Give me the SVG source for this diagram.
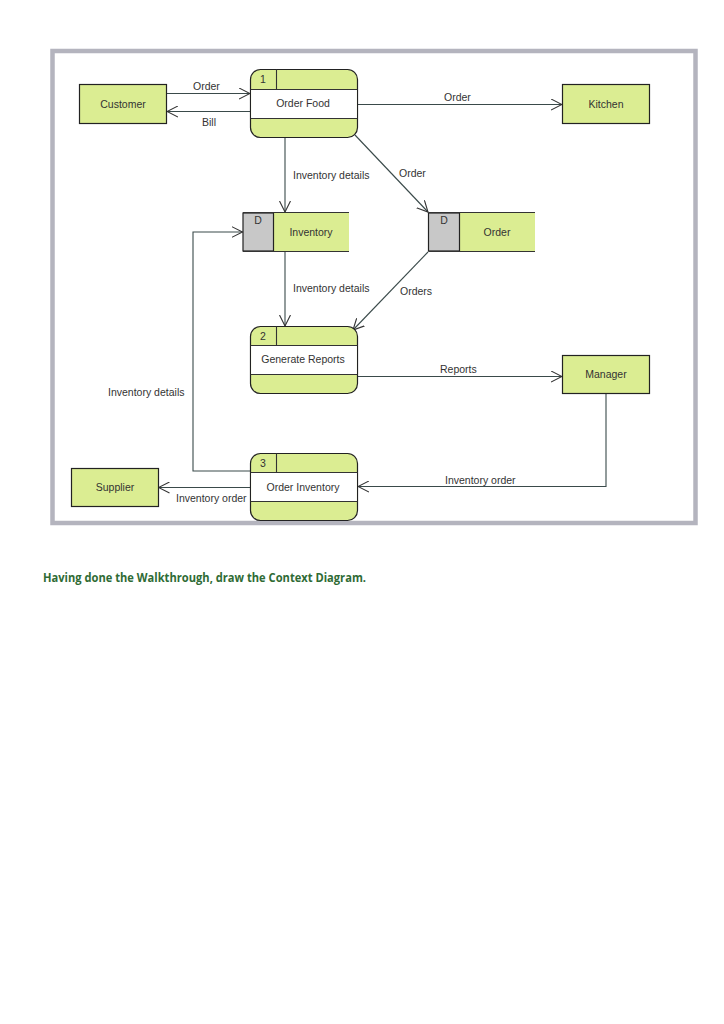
<svg xmlns="http://www.w3.org/2000/svg" width="724" height="1024" viewBox="0 0 724 1024">
<style>
.fill{fill:#dbed92;stroke:#222;stroke-width:1.2}
.grey{fill:#c8c8c8;stroke:#222;stroke-width:1.2}
.ln{stroke:#333;stroke-width:1.1;fill:none}
.conn{stroke:#3a4a4a;stroke-width:1.1;fill:none}
.t{font-family:"Liberation Sans",Arial,sans-serif;font-size:10.5px;fill:#333;text-anchor:middle}
.lbl{font-family:"Liberation Sans",Arial,sans-serif;font-size:10.5px;fill:#333}
</style>
<defs>
<marker id="arr" viewBox="0 0 12 12" refX="11" refY="6" markerWidth="12" markerHeight="12" markerUnits="userSpaceOnUse" orient="auto">
<path d="M0,0.5 L11,6 L0,11.5" fill="none" stroke="#333" stroke-width="1.1"/>
</marker>
</defs>
<rect width="724" height="1024" fill="#fff"/>
<rect x="52.5" y="51" width="643" height="472" fill="#fff" stroke="#b4b4be" stroke-width="4.5"/>

<g id="connectors">
<line class="conn" x1="166" y1="93.5" x2="250" y2="93.5" marker-end="url(#arr)"/>
<line class="conn" x1="250" y1="111.5" x2="167" y2="111.5" marker-end="url(#arr)"/>
<line class="conn" x1="358" y1="104.5" x2="562" y2="104.5" marker-end="url(#arr)"/>
<line class="conn" x1="285" y1="138" x2="285" y2="212" marker-end="url(#arr)"/>
<line class="conn" x1="355" y1="135" x2="428" y2="212" marker-end="url(#arr)"/>
<line class="conn" x1="285" y1="251" x2="285" y2="326" marker-end="url(#arr)"/>
<line class="conn" x1="428" y1="252" x2="353" y2="330" marker-end="url(#arr)"/>
<line class="conn" x1="358" y1="376.5" x2="562" y2="376.5" marker-end="url(#arr)"/>
<polyline class="conn" points="606,393 606,486.5 358,486.5" marker-end="url(#arr)"/>
<line class="conn" x1="251" y1="487.5" x2="158.5" y2="487.5" marker-end="url(#arr)"/>
<polyline class="conn" points="251,471 193,471 193,232 242.5,232" marker-end="url(#arr)"/>
<text class="lbl" x="193" y="90">Order</text>
<text class="lbl" x="202" y="126">Bill</text>
<text class="lbl" x="444" y="101">Order</text>
<text class="lbl" x="293" y="179">Inventory details</text>
<text class="lbl" x="399" y="177">Order</text>
<text class="lbl" x="293" y="292">Inventory details</text>
<text class="lbl" x="400" y="295">Orders</text>
<text class="lbl" x="440" y="373">Reports</text>
<text class="lbl" x="108" y="396">Inventory details</text>
<text class="lbl" x="445" y="484">Inventory order</text>
<text class="lbl" x="176" y="502">Inventory order</text>
</g>

<g id="customer">
<rect class="fill" x="79.5" y="84.5" width="87" height="39"/>
<text class="t" x="123" y="107.5">Customer</text>
</g>
<g id="kitchen">
<rect class="fill" x="562.5" y="84.5" width="87" height="39"/>
<text class="t" x="606" y="107.5">Kitchen</text>
</g>
<g id="manager">
<rect class="fill" x="562.5" y="355.5" width="87" height="38"/>
<text class="t" x="606" y="378">Manager</text>
</g>
<g id="supplier">
<rect class="fill" x="71.5" y="468.5" width="87" height="38"/>
<text class="t" x="115" y="491">Supplier</text>
</g>

<g id="process1">
<rect class="fill" x="250.5" y="69.5" width="107" height="68" rx="10"/>
<rect x="251.1" y="89.5" width="105.8" height="29" fill="#fff"/>
<line class="ln" x1="250.5" y1="89.5" x2="357.5" y2="89.5"/>
<line class="ln" x1="250.5" y1="118.5" x2="357.5" y2="118.5"/>
<line class="ln" x1="276.5" y1="69.5" x2="276.5" y2="89.5"/>
<text class="t" x="263" y="83">1</text>
<text class="t" x="303" y="107">Order Food</text>
</g>
<g id="process2">
<rect class="fill" x="250.5" y="326.5" width="107" height="67" rx="10"/>
<rect x="251.1" y="345.5" width="105.8" height="29" fill="#fff"/>
<line class="ln" x1="250.5" y1="345.5" x2="357.5" y2="345.5"/>
<line class="ln" x1="250.5" y1="374.5" x2="357.5" y2="374.5"/>
<line class="ln" x1="276.5" y1="326.5" x2="276.5" y2="345.5"/>
<text class="t" x="263" y="339.5">2</text>
<text class="t" x="303" y="363">Generate Reports</text>
</g>
<g id="process3">
<rect class="fill" x="250.5" y="453.5" width="107" height="67" rx="10"/>
<rect x="251.1" y="472.5" width="105.8" height="29" fill="#fff"/>
<line class="ln" x1="250.5" y1="472.5" x2="357.5" y2="472.5"/>
<line class="ln" x1="250.5" y1="501.5" x2="357.5" y2="501.5"/>
<line class="ln" x1="276.5" y1="453.5" x2="276.5" y2="472.5"/>
<text class="t" x="263" y="466.5">3</text>
<text class="t" x="303" y="490.5">Order Inventory</text>
</g>

<g id="store-inventory">
<rect x="243" y="213" width="106" height="38" fill="#dbed92"/>
<rect class="grey" x="243" y="213" width="30.5" height="38"/>
<line class="ln" x1="243" y1="212.5" x2="349" y2="212.5"/>
<line class="ln" x1="243" y1="251.5" x2="349" y2="251.5"/>
<text class="t" x="258" y="224">D</text>
<text class="t" x="311" y="235.5">Inventory</text>
</g>
<g id="store-order">
<rect x="428.5" y="213" width="106.5" height="38" fill="#dbed92"/>
<rect class="grey" x="428.5" y="213" width="31" height="38"/>
<line class="ln" x1="428.5" y1="212.5" x2="535" y2="212.5"/>
<line class="ln" x1="428.5" y1="251.5" x2="535" y2="251.5"/>
<text class="t" x="444" y="224">D</text>
<text class="t" x="497" y="235.5">Order</text>
</g>

<text x="43" y="582" font-family="'Open Sans','Liberation Sans',sans-serif" font-size="11.5" font-weight="bold" fill="#2f6b35" textLength="323" lengthAdjust="spacingAndGlyphs">Having done the Walkthrough, draw the Context Diagram.</text>
</svg>
